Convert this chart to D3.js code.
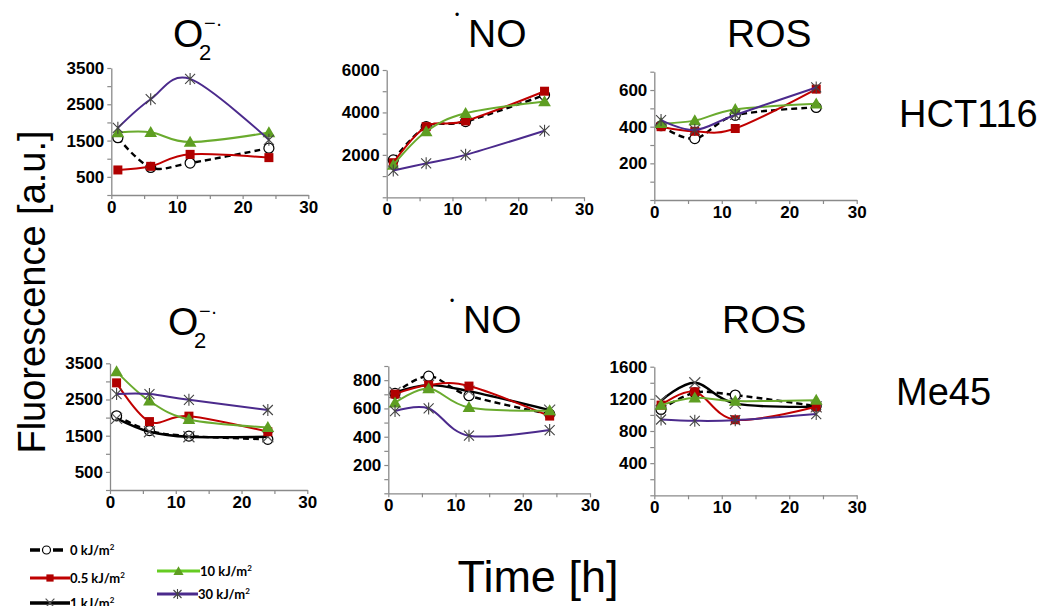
<!DOCTYPE html>
<html><head><meta charset="utf-8">
<script src="https://cdn.jsdelivr.net/npm/d3@7"></script>
<style>body{margin:0;background:#fff} svg{display:block}</style>
</head><body><svg id="c" width="1059" height="606"></svg>
<script>
// ---------- DATA ----------
const times = [1, 6, 12, 24];
const doseLabels = ["0", "0.5", "1", "10", "30"];
const xTickValues = [0, 5, 10, 15, 20, 25, 30];
const xTickLabels = [0, 10, 20, 30];
const rowLabels = ["HCT116", "Me45"];

// HCT116 (no 1 kJ/m² series shown)
const hctO2_0  = [1580, 760, 880, 1290];
const hctO2_05 = [690, 790, 1120, 1030];
const hctO2_10 = [1720, 1730, 1460, 1720];
const hctO2_30 = [1850, 2640, 3200, 1520];

const hctNO_0  = [1760, 3330, 3570, 4820];
const hctNO_05 = [1630, 3330, 3600, 5000];
const hctNO_10 = [1520, 3100, 3960, 4510];
const hctNO_30 = [1260, 1600, 2000, 3140];

const hctROS_0  = [405, 335, 462, 505];
const hctROS_05 = [400, 375, 390, 605];
const hctROS_10 = [418, 433, 494, 525];
const hctROS_30 = [436, 382, 464, 614];

// Me45
const meO2_0  = [2050, 1640, 1490, 1400];
const meO2_05 = [2960, 1890, 2040, 1610];
const meO2_1  = [1980, 1610, 1470, 1470];
const meO2_10 = [3270, 2460, 1950, 1730];
const meO2_30 = [2650, 2650, 2490, 2210];

const meNO_0  = [706, 828, 690, 560];
const meNO_05 = [701, 765, 758, 546];
const meNO_1  = [713, 765, 722, 588];
const meNO_10 = [640, 741, 607, 584];
const meNO_30 = [581, 600, 407, 447];

const meROS_0  = [1068, 1276, 1247, 1110];
const meROS_05 = [1122, 1288, 940, 1101];
const meROS_1  = [1176, 1400, 1143, 1101];
const meROS_10 = [1122, 1213, 1172, 1184];
const meROS_30 = [943, 927, 935, 1010];

// y tick labels per panel
const yO2Labels = [500, 1500, 2500, 3500];
const yNOhctLabels = [2000, 4000, 6000];
const yROShctLabels = [200, 400, 600];
const yNOmeLabels = [200, 400, 600, 800];
const yROSmeLabels = [400, 800, 1200, 1600];

// ---------- LAYOUT ----------
const panels = [
  {x0:111.3, x1:308.3, yb:195,   yt:68,    max:3500, step:500,  labels:yO2Labels,     series:[hctO2_0, hctO2_05, null, hctO2_10, hctO2_30]},
  {x0:386.7, x1:584,   yb:197.3, yt:70,    max:6000, step:1000, labels:yNOhctLabels,  series:[hctNO_0, hctNO_05, null, hctNO_10, hctNO_30]},
  {x0:654.3, x1:856.7, yb:200,   yt:71.7,  max:700,  step:100,  labels:yROShctLabels, series:[hctROS_0, hctROS_05, null, hctROS_10, hctROS_30]},
  {x0:110,   x1:307.3, yb:490,   yt:363.3, max:3500, step:500,  labels:yO2Labels,     series:[meO2_0, meO2_05, meO2_1, meO2_10, meO2_30]},
  {x0:388.3, x1:590,   yb:493.3, yt:366,   max:900,  step:100,  labels:yNOmeLabels,   series:[meNO_0, meNO_05, meNO_1, meNO_10, meNO_30]},
  {x0:654.3, x1:856.7, yb:495.3, yt:366.7, max:1600, step:200,  labels:yROSmeLabels,  series:[meROS_0, meROS_05, meROS_1, meROS_10, meROS_30]}
];

const styles = [
  {color:"#000000", dash:"6,4", width:2.4, marker:"circle"},
  {color:"#c00000", dash:null,  width:2.0, marker:"square"},
  {color:"#000000", dash:null,  width:2.4, marker:"x"},
  {color:"#6aab2e", dash:null,  width:2.0, marker:"triangle"},
  {color:"#4b2a8c", dash:null,  width:2.0, marker:"asterisk"}
];
const drawOrder = [0, 2, 1, 3, 4];

const svg = d3.select("#c");
const FONT = "'Liberation Sans', Arial, sans-serif";

function drawMarker(g, type, cx, cy, scale) {
  const s = scale || 1;
  if (type === "circle") {
    g.append("circle").attr("cx", cx).attr("cy", cy).attr("r", 5*s)
      .attr("fill", "#fff").attr("stroke", "#000").attr("stroke-width", 1.2);
  } else if (type === "square") {
    g.append("rect").attr("x", cx-4.5*s).attr("y", cy-4.5*s).attr("width", 9*s).attr("height", 9*s)
      .attr("fill", "#b00000");
  } else if (type === "triangle") {
    g.append("path").attr("d", d3.symbol().type(d3.symbolTriangle).size(70*s*s)())
      .attr("transform", `translate(${cx},${cy+1})`).attr("fill", "#5e9e22");
  } else if (type === "x") {
    const r = 5.5*s;
    g.append("path").attr("d", `M${cx-r},${cy-r}L${cx+r},${cy+r}M${cx-r},${cy+r}L${cx+r},${cy-r}`)
      .attr("stroke", "#555").attr("stroke-width", 1.2).attr("fill", "none");
  } else if (type === "asterisk") {
    const r = 5*s;
    g.append("path").attr("d", `M${cx-r},${cy-r}L${cx+r},${cy+r}M${cx-r},${cy+r}L${cx+r},${cy-r}M${cx},${cy-r-1}L${cx},${cy+r+1}`)
      .attr("stroke", "#444").attr("stroke-width", 1.1).attr("fill", "none");
  }
}

panels.forEach(p => {
  const x = d3.scaleLinear().domain([0, 30]).range([p.x0, p.x1]);
  const y = d3.scaleLinear().domain([0, p.max]).range([p.yb, p.yt]);
  const g = svg.append("g");

  const yAxis = d3.axisLeft(y).tickValues(d3.range(0, p.max + 1, p.step))
    .tickSize(4).tickSizeOuter(0).tickPadding(3)
    .tickFormat(d => p.labels.includes(d) ? d : "");
  const ya = g.append("g").attr("transform", `translate(${p.x0},0)`).call(yAxis);

  const xAxis = d3.axisBottom(x).tickValues(xTickValues)
    .tickSize(4).tickSizeOuter(0).tickPadding(2)
    .tickFormat(d => xTickLabels.includes(d) ? d : "");
  const xa = g.append("g").attr("transform", `translate(0,${p.yb})`).call(xAxis);

  [ya, xa].forEach(a => {
    a.select(".domain").attr("stroke", "#8a8a8a").attr("stroke-width", 1.3);
    a.selectAll(".tick line").attr("stroke", "#8a8a8a").attr("stroke-width", 1.2);
    a.selectAll(".tick text").attr("fill", "#000").style("font-family", FONT)
      .style("font-size", "17px").style("font-weight", "bold");
  });

  const line = d3.line().x((d, i) => x(times[i])).y(d => y(d)).curve(d3.curveCatmullRom.alpha(0));

  drawOrder.forEach(si => {
    const vals = p.series[si];
    if (!vals) return;
    const st = styles[si];
    const sg = g.append("g");
    sg.append("path").attr("d", line(vals)).attr("fill", "none")
      .attr("stroke", st.color).attr("stroke-width", st.width)
      .attr("stroke-dasharray", st.dash);
    vals.forEach((v, i) => drawMarker(sg, st.marker, x(times[i]), y(v)));
  });
});

// ---------- TITLES ----------
function titleO2(xo, base) {
  const t = svg.append("text").style("font-family", FONT).attr("fill", "#000");
  t.append("tspan").attr("x", xo).attr("y", base).style("font-size", "39px").text("O");
  t.append("tspan").attr("x", xo + 26).attr("y", base + 13).style("font-size", "22px").text("2");
  t.append("tspan").attr("x", xo + 31).attr("y", base - 17).style("font-size", "20px").text("−·");
}
function titleNO(xo, base) {
  const t = svg.append("text").style("font-family", FONT).attr("fill", "#000");
  t.append("tspan").attr("x", xo - 13).attr("y", base - 28).style("font-size", "12px").text("•");
  t.append("tspan").attr("x", xo).attr("y", base).style("font-size", "39px").text("NO");
}
function titleROS(xo, base) {
  svg.append("text").attr("x", xo).attr("y", base).style("font-family", FONT)
    .style("font-size", "39px").attr("fill", "#000").text("ROS");
}
titleO2(173, 47);  titleNO(468, 47);  titleROS(727, 47);
titleO2(168, 335); titleNO(463, 333); titleROS(722, 333);

// row labels
svg.append("text").attr("x", 899).attr("y", 127).style("font-family", FONT)
  .style("font-size", "38px").text(rowLabels[0]);
svg.append("text").attr("x", 896).attr("y", 405).style("font-family", FONT)
  .style("font-size", "38px").text(rowLabels[1]);

// axis titles
svg.append("text").attr("transform", "translate(45,292) rotate(-90)")
  .attr("text-anchor", "middle").style("font-family", FONT).style("font-size", "38px")
  .text("Fluorescence [a.u.]");
svg.append("text").attr("x", 538).attr("y", 592).attr("text-anchor", "middle")
  .style("font-family", FONT).style("font-size", "45px").text("Time [h]");

// ---------- LEGEND ----------
const legendPos = [
  {x1:30, x2:63,  y:550, tx:70},
  {x1:30, x2:70,  y:578, tx:70},
  {x1:30, x2:70,  y:603, tx:70},
  {x1:157, x2:200, y:571, tx:200},
  {x1:157, x2:198, y:594, tx:198}
];
const legendWidths = [3.5, 3, 3.5, 3, 3];
doseLabels.forEach((lab, i) => {
  const lp = legendPos[i], st = styles[i];
  const lg = svg.append("g");
  lg.append("line").attr("x1", lp.x1).attr("x2", lp.x2).attr("y1", lp.y).attr("y2", lp.y)
    .attr("stroke", i === 3 ? "#66cc22" : st.color).attr("stroke-width", legendWidths[i])
    .attr("stroke-dasharray", i === 0 ? "10,13" : null);
  drawMarker(lg, st.marker, (lp.x1 + lp.x2) / 2, lp.y, 0.8);
  const t = lg.append("text").attr("x", lp.tx).attr("y", lp.y + 4.5)
    .style("font-family", "Lato, 'Open Sans', sans-serif").style("font-size", "13px")
    .style("font-weight", "bold").attr("fill", "#000");
  t.append("tspan").text(lab + " kJ/m");
  t.append("tspan").attr("dy", -5).style("font-size", "8px").text("2");
});
</script>
</body></html>
